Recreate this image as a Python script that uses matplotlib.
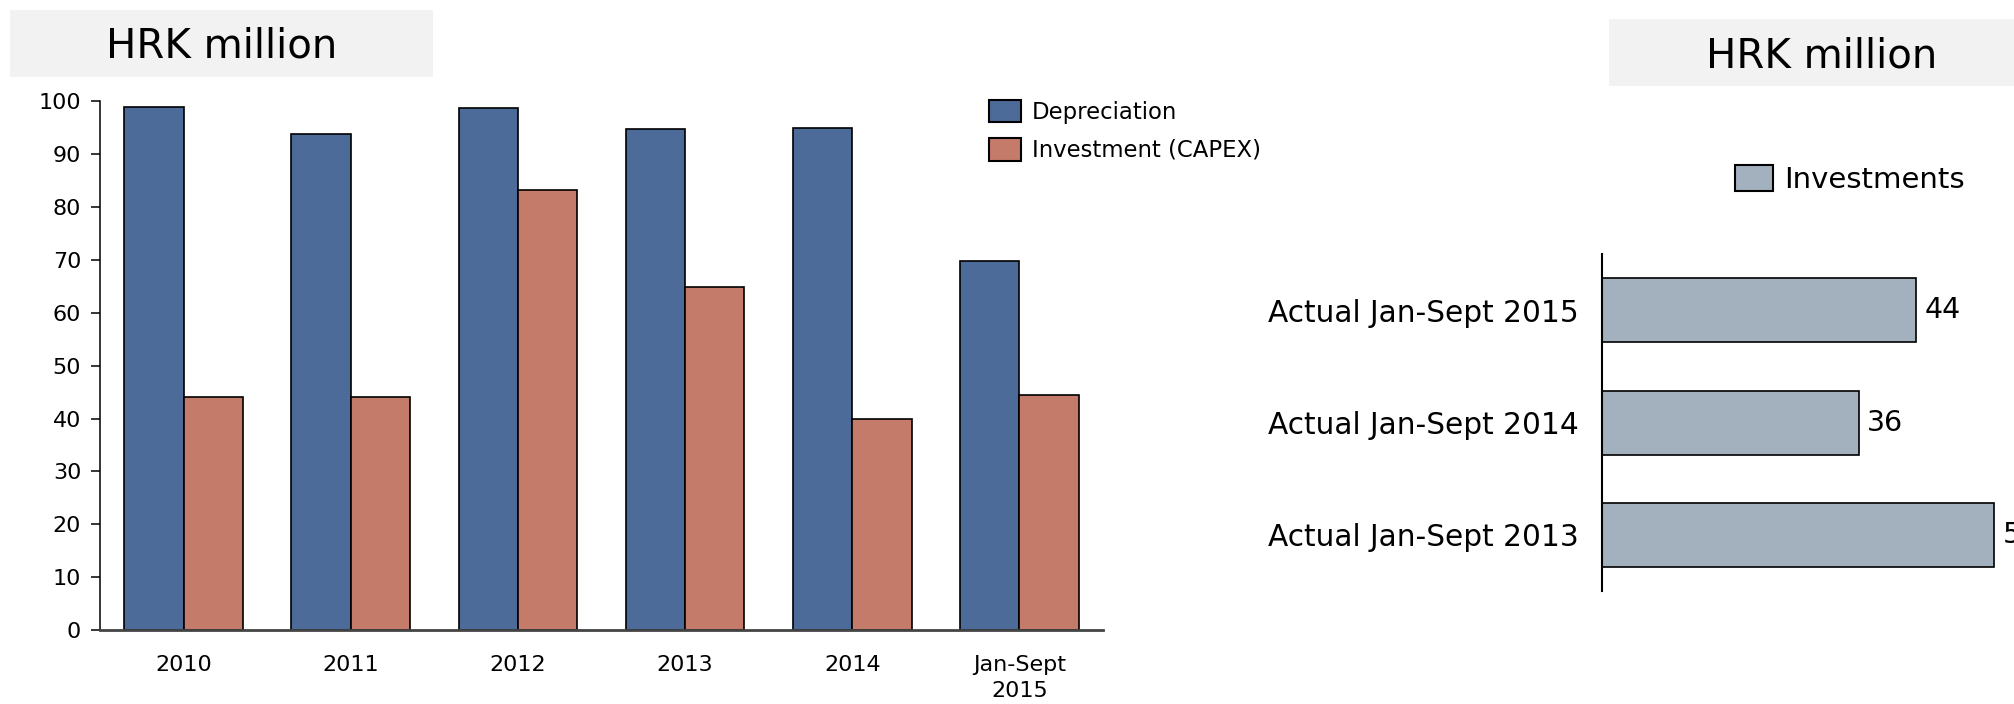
import numpy as np
import matplotlib
matplotlib.use("Agg")
import matplotlib.pyplot as plt
from matplotlib.patches import Rectangle, Patch

plt.rcParams["font.family"] = ["DejaVu Sans"]

# ── data ────────────────────────────────────────────
years        = ["2010", "2011", "2012", "2013", "2014", "Jan-Sept\n2015"]
depreciation = [99.0, 93.8, 98.7, 94.7, 95.0, 69.8]
capex        = [44.0, 44.0, 83.2, 64.8, 39.9, 44.5]

periods     = ["Actual Jan-Sept 2013", "Actual Jan-Sept 2014", "Actual Jan-Sept 2015"]
investments = [55, 36, 44]

C_BLUE   = "#4c6b99"
C_ORANGE = "#c57b69"
C_GREY   = "#a3b1bf"
C_BOX    = "#f2f2f2"

fig = plt.figure(figsize=(20.15, 7.04), dpi=100)

# ── title boxes ─────────────────────────────────────
fig.patches.append(Rectangle((0.005, 0.8906), 0.210, 0.0952, transform=fig.transFigure,
                             facecolor=C_BOX, edgecolor="none", zorder=0))
fig.text(0.110, 0.934, "HRK million", fontsize=29, ha="center", va="center")

fig.patches.append(Rectangle((0.7985, 0.878), 0.25, 0.095, transform=fig.transFigure,
                             facecolor=C_BOX, edgecolor="none", zorder=0))
fig.text(0.904, 0.920, "HRK million", fontsize=29, ha="center", va="center")

# ── left: depreciation vs capex ─────────────────────
ax1 = fig.add_axes([0.0496, 0.105, 0.4978, 0.751])
x = np.arange(len(years))
w = 0.355
ax1.bar(x - w/2, depreciation, w, color=C_BLUE, edgecolor="black", linewidth=1.2,
        label="Depreciation", zorder=2)
ax1.bar(x + w/2, capex, w, color=C_ORANGE, edgecolor="black", linewidth=1.2,
        label="Investment (CAPEX)", zorder=2)

ax1.set_xlim(-0.5, len(years) - 0.5)
ax1.set_ylim(0, 100)
ax1.set_yticks(range(0, 101, 10))
ax1.set_xticks(x)
ax1.set_xticklabels(years, fontsize=16, linespacing=1.35)
ax1.tick_params(axis="x", length=0, pad=18)
ax1.tick_params(axis="y", labelsize=16, length=6.5, width=1.1, pad=7)
for s in ["top", "right"]:
    ax1.spines[s].set_visible(False)
ax1.spines["left"].set_linewidth(1.1)
ax1.spines["bottom"].set_color("#444444")
ax1.spines["bottom"].set_linewidth(2)
ax1.spines["bottom"].set_zorder(3)

h1 = [Patch(facecolor=C_BLUE, edgecolor="black", linewidth=1.5),
      Patch(facecolor=C_ORANGE, edgecolor="black", linewidth=1.5)]
fig.legend(h1, ["Depreciation", "Investment (CAPEX)"], loc="upper left",
           bbox_to_anchor=(0.4908, 0.858), frameon=False, fontsize=16.4,
           handlelength=1.4, handleheight=1.14, handletextpad=0.48,
           labelspacing=0.62, borderpad=0, borderaxespad=0)

# ── right: investments ──────────────────────────────
ax2 = fig.add_axes([0.795, 0.1605, 0.205, 0.4785])
y = np.arange(len(periods))
bars = ax2.barh(y, investments, height=0.57, color=C_GREY, edgecolor="black",
                linewidth=1.2, zorder=2)
ax2.bar_label(bars, labels=[str(v) for v in investments], padding=6, fontsize=20.5,
              clip_on=False)
ax2.set_ylim(-0.5, 2.5)
ax2.set_xlim(0, 57.9)
ax2.set_yticks(y)
ax2.set_yticklabels(periods, fontsize=21.3)
ax2.tick_params(axis="y", length=0, pad=17)
ax2.set_xticks([])
for s in ["top", "right", "bottom"]:
    ax2.spines[s].set_visible(False)
ax2.spines["left"].set_linewidth(1.5)

fig.legend([Patch(facecolor=C_GREY, edgecolor="black", linewidth=1.5)], ["Investments"],
           loc="upper left", bbox_to_anchor=(0.861, 0.766), frameon=False, fontsize=21,
           handlelength=1.3, handleheight=1.0, handletextpad=0.4,
           borderpad=0, borderaxespad=0)

plt.savefig("out.png", dpi=100)
